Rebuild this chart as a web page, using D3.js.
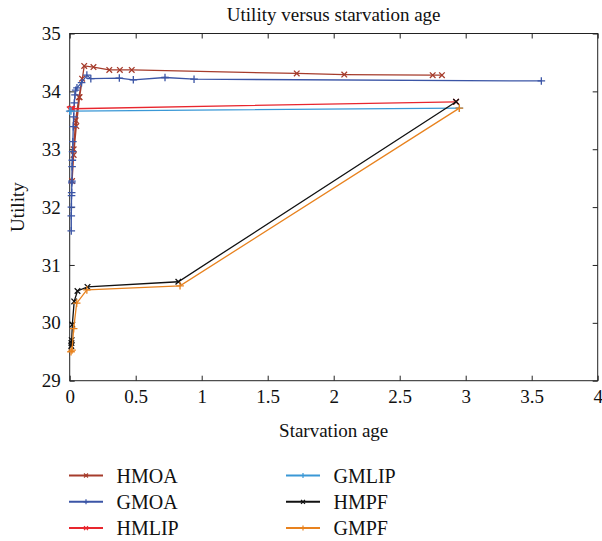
<!DOCTYPE html>
<html>
<head>
<meta charset="utf-8">
<script src="https://cdn.jsdelivr.net/npm/d3@7"></script>
<style>
  body { margin: 0; background: #fff; }
  svg text { font-family: "Liberation Serif", "DejaVu Serif", serif; fill: #111; }
</style>
</head>
<body>
<svg width="602" height="541"></svg>
<script>
const svg = d3.select('svg');

// series: [starvation age, utility]
const seriesNames = ['HMOA', 'GMOA', 'HMLIP', 'GMLIP', 'HMPF', 'GMPF'];
const seriesColors = ['#a63c2c', '#3b55a6', '#e8262e', '#3a98d6', '#111111', '#e8821e'];
const seriesMarkers = ['x', '+', 'x', '+', 'x', '+'];

const hmoa = [[0.094, 34.22], [0.07, 33.9], [0.045, 33.5], [0.03, 33.0], [0.018, 32.45], [0.03, 32.9],
  [0.05, 33.4], [0.075, 33.9], [0.11, 34.44], [0.18, 34.42], [0.3, 34.37], [0.38, 34.37],
  [0.47, 34.37], [1.72, 34.31], [2.08, 34.29], [2.75, 34.28], [2.82, 34.28]];
const gmoa = [[0.012, 31.59], [0.012, 31.85], [0.013, 32.0], [0.014, 32.2], [0.015, 32.25],
  [0.016, 32.42], [0.017, 32.45], [0.018, 32.7], [0.02, 32.81], [0.022, 32.96], [0.024, 33.13],
  [0.027, 33.39], [0.03, 33.56], [0.035, 33.8], [0.04, 33.94], [0.045, 34.02], [0.055, 34.06],
  [0.09, 34.15], [0.13, 34.28], [0.16, 34.22], [0.376, 34.23], [0.482, 34.2], [0.722, 34.24],
  [0.942, 34.21], [3.573, 34.18]];
const hmlip = [[0.0, 33.69], [0.01, 33.7], [0.02, 33.7], [2.927, 33.82]];
const gmlip = [[0.0, 33.66], [0.01, 33.66], [2.952, 33.71]];
const hmpf = [[0.012, 29.6], [0.013, 29.65], [0.015, 29.7], [0.02, 29.97], [0.034, 30.37],
  [0.059, 30.55], [0.135, 30.62], [0.823, 30.71], [2.927, 33.82]];
const gmpf = [[0.01, 29.5], [0.018, 29.53], [0.03, 29.9], [0.053, 30.34], [0.13, 30.57],
  [0.836, 30.64], [2.952, 33.71]];
const allSeries = [hmoa, gmoa, hmlip, gmlip, hmpf, gmpf];

const xTicks = [0, 0.5, 1, 1.5, 2, 2.5, 3, 3.5, 4];
const yTicks = [29, 30, 31, 32, 33, 34, 35];

const pLeft = 69.7, pRight = 597.7, pTop = 33.5, pBottom = 380.7;
const x = d3.scaleLinear().domain([0, 4]).range([pLeft, pRight]);
const y = d3.scaleLinear().domain([29, 35]).range([pBottom, pTop]);

const fmt = d => d3.format('')(d);

// box
svg.append('rect')
  .attr('x', pLeft).attr('y', pTop)
  .attr('width', pRight - pLeft).attr('height', pBottom - pTop)
  .attr('fill', 'none').attr('stroke', '#222').attr('stroke-width', 1);

const styleAxis = g => {
  g.select('.domain').remove();
  g.selectAll('line').attr('stroke', '#222');
  g.selectAll('text').attr('font-size', 19).attr('font-family', '"Liberation Serif", serif').attr('fill', '#111');
};

svg.append('g').attr('transform', `translate(0,${pBottom})`)
  .call(d3.axisBottom(x).tickValues(xTicks).tickFormat(fmt).tickSizeInner(-5).tickSizeOuter(0).tickPadding(9))
  .call(styleAxis);
svg.append('g').attr('transform', `translate(0,${pTop})`)
  .call(d3.axisTop(x).tickValues(xTicks).tickFormat('').tickSizeInner(-5).tickSizeOuter(0))
  .call(styleAxis);
svg.append('g').attr('transform', `translate(${pLeft},0)`)
  .call(d3.axisLeft(y).tickValues(yTicks).tickFormat(fmt).tickSizeInner(-5).tickSizeOuter(0).tickPadding(9))
  .call(styleAxis);
svg.append('g').attr('transform', `translate(${pRight},0)`)
  .call(d3.axisRight(y).tickValues(yTicks).tickFormat('').tickSizeInner(-5).tickSizeOuter(0))
  .call(styleAxis);

const markerPath = m => m === 'x'
  ? 'M-2.8,-2.8L2.8,2.8M-2.8,2.8L2.8,-2.8'
  : 'M-3.8,0H3.8M0,-3.8V3.8';

const line = d3.line().x(d => x(d[0])).y(d => y(d[1]));

const plot = svg.append('g');
allSeries.forEach((data, i) => {
  const g = plot.append('g');
  g.append('path')
    .datum(data)
    .attr('d', line)
    .attr('fill', 'none')
    .attr('stroke', seriesColors[i])
    .attr('stroke-width', 1.3);
  g.selectAll('path.m')
    .data(data)
    .enter()
    .append('path')
    .attr('class', 'm')
    .attr('transform', d => `translate(${x(d[0])},${y(d[1])})`)
    .attr('d', markerPath(seriesMarkers[i]))
    .attr('stroke', seriesColors[i])
    .attr('stroke-width', 1.3)
    .attr('fill', 'none');
});

// title and axis labels
svg.append('text')
  .attr('x', (pLeft + pRight) / 2).attr('y', 21)
  .attr('text-anchor', 'middle').attr('font-size', 19)
  .text('Utility versus starvation age');
svg.append('text')
  .attr('x', (pLeft + pRight) / 2).attr('y', 437)
  .attr('text-anchor', 'middle').attr('font-size', 19)
  .text('Starvation age');
svg.append('text')
  .attr('transform', `translate(24,${(pTop + pBottom) / 2}) rotate(-90)`)
  .attr('text-anchor', 'middle').attr('font-size', 19)
  .text('Utility');

// legend
const legend = svg.append('g');
seriesNames.forEach((name, i) => {
  const col = Math.floor(i / 3), row = i % 3;
  const lx = 69 + col * 217, ly = 475.5 + row * 26.3;
  const g = legend.append('g').attr('transform', `translate(${lx},${ly})`);
  g.append('line').attr('x1', 0).attr('x2', 34).attr('y1', 0).attr('y2', 0)
    .attr('stroke', seriesColors[i]).attr('stroke-width', 2);
  g.append('path').attr('transform', 'translate(17,0)')
    .attr('d', seriesMarkers[i] === 'x' ? 'M-2,-2L2,2M-2,2L2,-2' : 'M-2.5,0H2.5M0,-2.5V2.5')
    .attr('stroke', seriesColors[i]).attr('stroke-width', 1.2);
  g.append('text').attr('x', 47.5).attr('y', 7).attr('font-size', 20).text(name);
});
</script>
</body>
</html>
